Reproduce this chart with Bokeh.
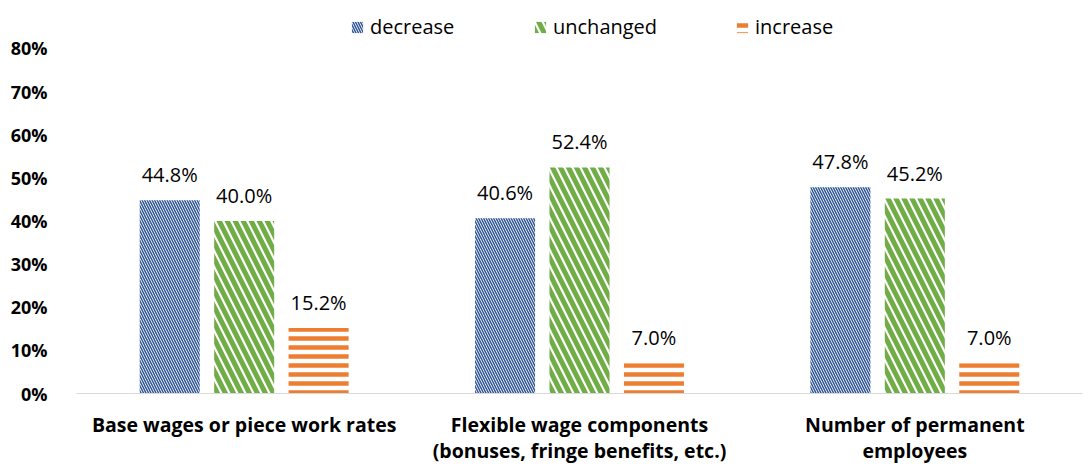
from bokeh.plotting import figure
from bokeh.models import (ColumnDataSource, FactorRange, Legend, LegendItem, NumeralTickFormatter,
                          LabelSet, CategoricalAxis, CustomJSTickFormatter)
from bokeh.core.properties import value
from bokeh.transform import dodge
from bokeh.embed import file_html
from bokeh.resources import INLINE

categories = ["Base wages or piece work rates",
              "Flexible wage components (bonuses, fringe benefits, etc.)",
              "Number of permanent employees"]
label_line1 = ["Base wages or piece work rates", "Flexible wage components", "Number of permanent"]
label_line2 = ["", "(bonuses, fringe benefits, etc.)", "employees"]
decrease = [0.448, 0.406, 0.478]
unchanged = [0.400, 0.524, 0.452]
increase = [0.152, 0.070, 0.070]
y_ticks = [0, 0.1, 0.2, 0.3, 0.4, 0.5, 0.6, 0.7, 0.8]

src = ColumnDataSource(dict(
    cat=categories, decrease=decrease, unchanged=unchanged, increase=increase,
    dl=[f"{v*100:.1f}%" for v in decrease],
    ul=[f"{v*100:.1f}%" for v in unchanged],
    il=[f"{v*100:.1f}%" for v in increase],
))

FONT = "Open Sans"
# frame extends above 80% so the legend sits inside it, at the top
p = figure(x_range=FactorRange(*categories), y_range=(0, 0.911),
           width=1083, height=466, output_backend="svg", toolbar_location=None,
           min_border_left=76, min_border_right=1, min_border_bottom=10, min_border_top=0)
p.outline_line_color = None
p.xgrid.grid_line_color = None
p.ygrid.grid_line_color = None
p.background_fill_color = "white"

series = [("decrease", -0.222, "#2F5597", "left_diagonal_line", 5, 1.5, "dl", 274),
          ("unchanged", 0.0, "#70AD47", "left_diagonal_line", 16, 5, "ul", 457),
          ("increase", 0.222, "#ED7D31", "horizontal_line", 9, 4.5, "il", 659)]
for name, off, col, pat, sc, wt, lab, lx in series:
    r = p.vbar(x=dodge("cat", off, range=p.x_range), top=name, width=0.179, source=src,
               fill_color="white", line_color=None, hatch_pattern=pat, hatch_color=col,
               hatch_scale=sc, hatch_weight=wt)
    p.add_layout(LabelSet(x=dodge("cat", off, range=p.x_range), y=name, text=lab, source=src,
                          text_align="center", text_baseline="alphabetic", y_offset=18,
                          text_font=value(FONT), text_font_size="20px", text_color="#000000"))
    p.add_layout(Legend(items=[LegendItem(label=name, renderers=[r])], location=(lx, 353),
                        label_text_font=FONT, label_text_font_size="20px",
                        label_text_color="#000000", glyph_width=14, glyph_height=14,
                        label_standoff=6, border_line_color=None, background_fill_alpha=0,
                        padding=0, margin=0), "center")

p.yaxis.ticker = y_ticks
p.yaxis.formatter = NumeralTickFormatter(format="0%")
p.yaxis.axis_line_color = None
p.yaxis.major_tick_line_color = None
p.yaxis.minor_tick_line_color = None
p.yaxis.major_label_text_font = FONT
p.yaxis.major_label_text_font_size = "18px"
p.yaxis.major_label_text_font_style = "bold"
p.yaxis.major_label_text_color = "#000000"
p.yaxis.major_label_standoff = 23

def style_x(ax, standoff, lines):
    ax.major_tick_line_color = None
    ax.minor_tick_line_color = None
    ax.major_label_text_font = FONT
    ax.major_label_text_font_size = "19.5px"
    ax.major_label_text_font_style = "bold"
    ax.major_label_text_color = "#000000"
    ax.major_label_standoff = standoff
    ax.formatter = CustomJSTickFormatter(args=dict(cats=categories, lines=lines), code="""
        const i = cats.indexOf(tick);
        return i >= 0 ? lines[i] : tick;
    """)

xa = p.xaxis[0]
xa.axis_line_color = "#D9D9D9"
xa.axis_line_width = 1
style_x(xa, 11, label_line1)

xb = CategoricalAxis(axis_line_color=None)
style_x(xb, -10, label_line2)
p.add_layout(xb, "below")

open("out.html", "w").write(file_html(p, INLINE))
